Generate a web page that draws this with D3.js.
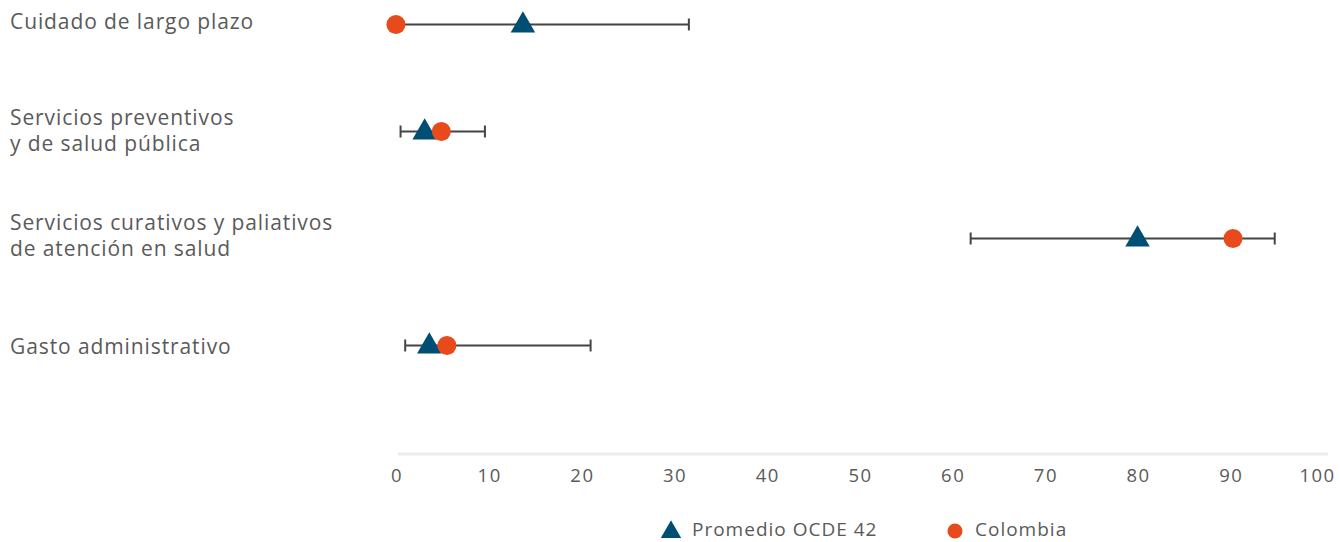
<!DOCTYPE html>
<html><head><meta charset="utf-8">
<script src="https://cdn.jsdelivr.net/npm/d3@7"></script>
<style>body{margin:0;background:#fff}svg{display:block}text{font-family:"Open Sans",Lato,sans-serif;fill:#5a5a5a}</style>
</head><body><svg id="c" width="1340" height="542"></svg>
<script>
const categories = [
  ["Cuidado de largo plazo"],
  ["Servicios preventivos", "y de salud pública"],
  ["Servicios curativos y paliativos", "de atención en salud"],
  ["Gasto administrativo"]
];
const rangeMin = [0, 0.6, 62.1, 1.1];
const rangeMax = [31.7, 9.7, 94.9, 21.1];
const ocde = [13.8, 3.2, 80.1, 3.7];
const colombia = [0.1, 5.0, 90.4, 5.6];
const ticks = [0,10,20,30,40,50,60,70,80,90,100];
const seriesNames = ["Promedio OCDE 42", "Colombia"];

const blue = "#004e73", orange = "#e84a1b";
const svg = d3.select("#c");
const x = d3.scaleLinear().domain([0,100]).range([395,1322]);
const y = d3.scalePoint().domain(d3.range(categories.length)).range([24.5,345.5]);

// axis
svg.append("line").attr("x1",x(0)+3).attr("x2",x(100)+6).attr("y1",454).attr("y2",454)
  .attr("stroke","#ececec").attr("stroke-width",3);
const ax = svg.append("g").attr("transform","translate(0,454)")
  .call(d3.axisBottom(x).tickValues(ticks).tickSize(0).tickPadding(15));
ax.select(".domain").remove();
ax.selectAll("text").style("font-size","18.5px").style("letter-spacing","1.5px")
  .style("font-family","'Open Sans',sans-serif").attr("fill","#5a5a5a").attr("dx",1.5);
ax.selectAll(".tick").filter(d=>d===100).select("text").attr("dx",-5);

// labels
const rowShift = [-2, 0, -2, 2];
categories.forEach((lines,i)=>{
  const t = svg.append("text").attr("x",10).style("font-size","21px").style("letter-spacing","0.9px");
  const n = lines.length;
  lines.forEach((s,j)=>{
    t.append("tspan").attr("x",10).attr("y", y(i) + 6 + (j - (n-1)/2)*26 + rowShift[i]).text(s);
  });
});

const g = svg.append("g");
d3.range(categories.length).forEach(i=>{
  const yy = y(i);
  g.append("line").attr("x1",x(rangeMin[i])).attr("x2",x(rangeMax[i])).attr("y1",yy).attr("y2",yy)
    .attr("stroke","#444").attr("stroke-width",2);
  [rangeMin[i], rangeMax[i]].forEach(v=>{
    g.append("line").attr("x1",x(v)).attr("x2",x(v)).attr("y1",yy-6).attr("y2",yy+6)
      .attr("stroke","#444").attr("stroke-width",2);
  });
});
const tri = d3.symbol().type(d3.symbolTriangle).size(260);
g.selectAll("path.o").data(ocde).join("path").attr("class","o")
  .attr("d",tri).attr("fill",blue)
  .attr("transform",(d,i)=>`translate(${x(d)},${y(i)+1})`);
g.selectAll("circle.c").data(colombia).join("circle").attr("class","c")
  .attr("cx",d=>x(d)).attr("cy",(d,i)=>y(i)).attr("r",9.5).attr("fill",orange);

// legend
const lg = svg.append("g");
const triS = d3.symbol().type(d3.symbolTriangle).size(180);
lg.append("path").attr("d",triS).attr("fill",blue).attr("transform","translate(671,532)");
lg.append("text").attr("x",692).attr("y",536).style("font-size","19px").style("letter-spacing","1px").text(seriesNames[0]);
lg.append("circle").attr("cx",955).attr("cy",531).attr("r",7.5).attr("fill",orange);
lg.append("text").attr("x",975).attr("y",536).style("font-size","19px").style("letter-spacing","1px").text(seriesNames[1]);
</script></body></html>
